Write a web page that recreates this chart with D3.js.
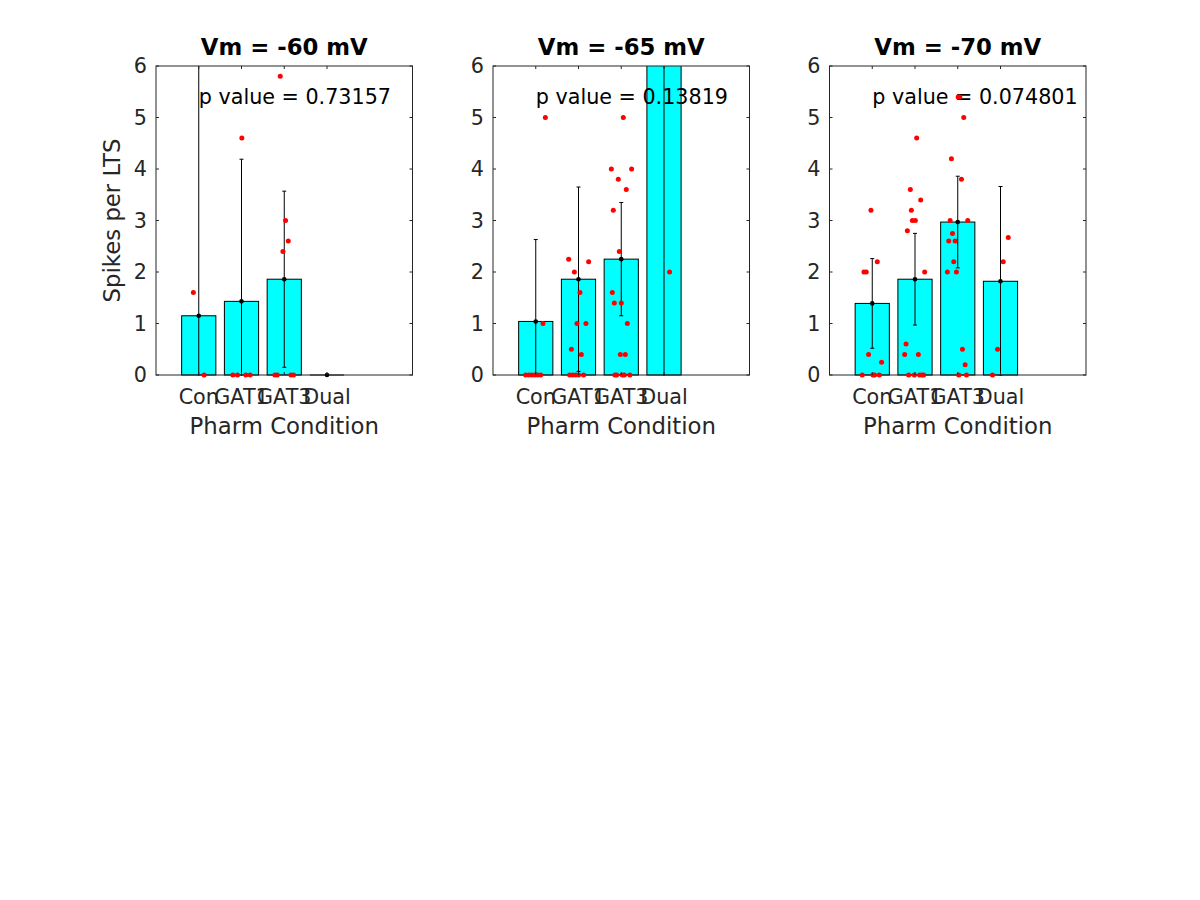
<!DOCTYPE html>
<html>
<head>
<meta charset="utf-8">
<script src="https://cdn.jsdelivr.net/npm/d3@7"></script>
<style>
  html, body { margin: 0; padding: 0; background: #fff; }
  svg { display: block; }
  text { font-family: "DejaVu Sans", sans-serif; }
</style>
</head>
<body>
<script>
// ---------------- DATA ----------------
const categories = ["Con", "GAT1", "GAT3", "Dual"];
const panelTitles = ["Vm = -60 mV", "Vm = -65 mV", "Vm = -70 mV"];
const pValues = ["0.73157", "0.13819", "0.074801"];
const yTicks = [0, 1, 2, 3, 4, 5, 6];
const xLabel = "Pharm Condition";
const yLabel = "Spikes per LTS";

// bar means and standard deviations per panel
const means60 = [1.15, 1.43, 1.86, 0];
const sd60 = [5.5, 2.76, 1.71, 0];
const means65 = [1.04, 1.86, 2.25, 8];
const sd65 = [1.59, 1.79, 1.10, 9];
const means70 = [1.39, 1.86, 2.97, 1.82];
const sd70 = [0.87, 0.89, 0.89, 1.84];

// individual points: [x in category units (jittered), value]
const pts60 = [
  [0.874, 1.6], [1.125, 0],
  [2.008, 4.6], [1.798, 0], [1.905, 0], [2.102, 0], [2.203, 0],
  [2.906, 5.8], [3.030, 3.0], [3.094, 2.6], [2.969, 2.4],
  [2.782, 0], [2.836, 0], [3.157, 0], [3.218, 0]
];
const pts65 = [
  [1.225, 5.0], [1.169, 1.0], [0.764, 0], [0.835, 0], [0.905, 0], [0.975, 0], [1.045, 0], [1.115, 0],
  [1.770, 2.25], [2.237, 2.2], [1.903, 2.0], [2.034, 1.6], [1.964, 1.0], [2.174, 1.0],
  [1.833, 0.5], [2.066, 0.4], [1.793, 0], [1.863, 0], [1.933, 0], [2.003, 0], [2.120, 0],
  [3.048, 5.0], [2.768, 4.0], [3.242, 4.0], [2.931, 3.8], [3.118, 3.6], [2.814, 3.2],
  [2.955, 2.4], [2.791, 1.6], [2.838, 1.4], [3.001, 1.4], [3.142, 1.0], [2.978, 0.4], [3.095, 0.4],
  [2.852, 0], [2.892, 0], [3.025, 0], [3.072, 0], [3.202, 0],
  [4.130, 2.0]
];
const pts70 = [
  [0.970, 3.2], [0.806, 2.0], [0.860, 2.0], [1.118, 2.2], [0.914, 0.4], [1.219, 0.25],
  [0.766, 0], [1.017, 0], [1.055, 0], [1.165, 0],
  [2.039, 4.6], [1.891, 3.6], [2.133, 3.4], [1.915, 3.2], [1.938, 3.0], [2.008, 3.0],
  [1.821, 2.8], [2.226, 2.0], [1.790, 0.6], [1.758, 0.4], [2.079, 0.4],
  [1.851, 0], [1.985, 0], [2.109, 0], [2.165, 0], [2.203, 0],
  [3.009, 5.4], [3.047, 5.4], [3.140, 5.0], [2.852, 4.2], [3.087, 3.8], [2.822, 3.0], [3.234, 3.0],
  [2.876, 2.75], [2.789, 2.6], [2.939, 2.6], [2.906, 2.2], [2.758, 2.0], [2.969, 2.0],
  [3.110, 0.5], [3.173, 0.2], [3.023, 0], [3.204, 0],
  [4.181, 2.67], [4.064, 2.2], [3.930, 0.5], [3.813, 0]
];

const panels = [
  { title: panelTitles[0], p: pValues[0], means: means60, sd: sd60, pts: pts60 },
  { title: panelTitles[1], p: pValues[1], means: means65, sd: sd65, pts: pts65 },
  { title: panelTitles[2], p: pValues[2], means: means70, sd: sd70, pts: pts70 }
];

// ---------------- LAYOUT ----------------
const W = 1200, H = 900;
const axLeft = [156, 493, 829.5];
const axW = 256.5, axTop = 66, axH = 309;
const axisColor = "#262626";
const tickFs = 20.7, labelFs = 22.8;

const svg = d3.select("body").append("svg").attr("width", W).attr("height", H);

panels.forEach((pd, pi) => {
  const g = svg.append("g").attr("transform", `translate(${axLeft[pi]},${axTop})`);
  const x = d3.scaleLinear().domain([0, 6]).range([0, axW]);
  const y = d3.scaleLinear().domain([0, 6]).range([axH, 0]);

  const clipId = "clip" + pi;
  g.append("clipPath").attr("id", clipId)
    .append("rect").attr("x", -1).attr("y", 0).attr("width", axW + 2).attr("height", axH + 1);

  const plot = g.append("g").attr("clip-path", `url(#${clipId})`);

  // bars (zero-height bars are drawn as their outline, a flat line)
  const bw = x(0.8) - x(0);
  pd.means.forEach((d, i) => {
    const top = y(Math.max(d, 0)), h = y(0) - top;
    if (h > 0.5) {
      plot.append("rect")
        .attr("x", x(i + 1 - 0.4)).attr("width", bw)
        .attr("y", top).attr("height", h)
        .attr("fill", "#00ffff").attr("stroke", "#000").attr("stroke-width", 1);
    } else {
      plot.append("line")
        .attr("x1", x(i + 1 - 0.4)).attr("x2", x(i + 1 + 0.4))
        .attr("y1", y(0)).attr("y2", y(0))
        .attr("stroke", "#000").attr("stroke-width", 1);
    }
  });

  // p value text
  g.append("text")
    .attr("x", x(1)).attr("y", y(5.4))
    .attr("dy", "0.35em")
    .attr("font-size", tickFs)
    .attr("fill", "#000")
    .text("p value = " + pd.p);

  // error bars
  const eb = plot.append("g").attr("stroke", "#000").attr("stroke-width", 1);
  pd.means.forEach((m, i) => {
    const cx = x(i + 1);
    const lo = m - pd.sd[i], hi = m + pd.sd[i];
    eb.append("line").attr("x1", cx).attr("x2", cx).attr("y1", y(lo)).attr("y2", y(hi));
    [lo, hi].forEach(v => {
      eb.append("line").attr("x1", cx - 2).attr("x2", cx + 2).attr("y1", y(v)).attr("y2", y(v));
    });
  });

  // axes box
  g.append("rect").attr("x", 0).attr("y", 0).attr("width", axW).attr("height", axH)
    .attr("fill", "none").attr("stroke", axisColor).attr("stroke-width", 1);

  // mean markers (markers clipped by centre only)
  g.selectAll("circle.mean").data(pd.means.filter(d => d >= 0 && d <= 6).map((d, i) => d))
    .enter();
  pd.means.forEach((m, i) => {
    if (m >= 0 && m <= 6) {
      g.append("circle").attr("cx", x(i + 1)).attr("cy", y(m)).attr("r", 2.3).attr("fill", "#000");
    }
  });

  // individual points
  g.selectAll("circle.pt").data(pd.pts.filter(d => d[1] >= 0 && d[1] <= 6)).enter().append("circle")
    .attr("class", "pt")
    .attr("cx", d => x(d[0])).attr("cy", d => y(d[1]))
    .attr("r", 2.5).attr("fill", "#ff0000");

  // tick marks (inside, all four sides)
  const tl = 3;
  const tk = g.append("g").attr("stroke", axisColor).attr("stroke-width", 1);
  yTicks.forEach(t => {
    tk.append("line").attr("x1", 0).attr("x2", tl).attr("y1", y(t)).attr("y2", y(t));
    tk.append("line").attr("x1", axW).attr("x2", axW - tl).attr("y1", y(t)).attr("y2", y(t));
  });
  categories.forEach((c, i) => {
    tk.append("line").attr("x1", x(i + 1)).attr("x2", x(i + 1)).attr("y1", axH).attr("y2", axH - tl);
    tk.append("line").attr("x1", x(i + 1)).attr("x2", x(i + 1)).attr("y1", 0).attr("y2", tl);
  });

  // tick labels
  g.selectAll("text.ytl").data(yTicks).enter().append("text")
    .attr("class", "ytl")
    .attr("x", -9).attr("y", d => y(d)).attr("dy", "0.35em")
    .attr("text-anchor", "end").attr("font-size", tickFs).attr("fill", axisColor)
    .text(d => d);
  g.selectAll("text.xtl").data(categories).enter().append("text")
    .attr("class", "xtl")
    .attr("x", (d, i) => x(i + 1)).attr("y", axH + 29)
    .attr("text-anchor", "middle").attr("font-size", tickFs).attr("fill", axisColor)
    .text(d => d);

  // x label
  g.append("text")
    .attr("x", axW / 2).attr("y", axH + 59)
    .attr("text-anchor", "middle").attr("font-size", labelFs).attr("fill", axisColor)
    .text(xLabel);

  // title
  g.append("text")
    .attr("x", axW / 2).attr("y", -11.5)
    .attr("text-anchor", "middle").attr("font-size", labelFs).attr("font-weight", "bold")
    .attr("fill", "#000")
    .text(pd.title);

  if (pi === 0) {
    g.append("text")
      .attr("transform", `translate(${120 - axLeft[0]},${axH / 2}) rotate(-90)`)
      .attr("text-anchor", "middle").attr("font-size", labelFs).attr("fill", axisColor)
      .text(yLabel);
  }
});
</script>
</body>
</html>
